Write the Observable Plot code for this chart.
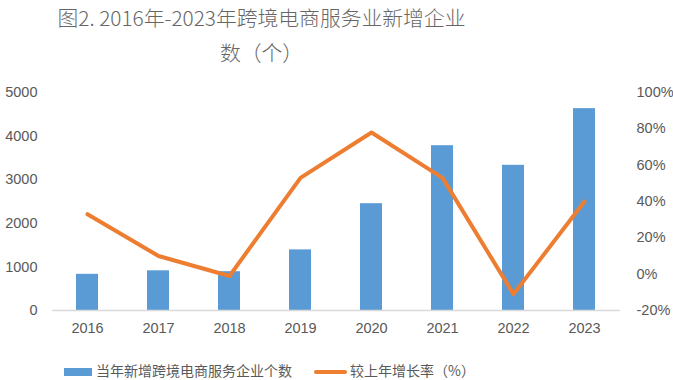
<!DOCTYPE html>
<html><head><meta charset="utf-8">
<script src="https://cdn.jsdelivr.net/npm/d3@7"></script>
<script src="https://cdn.jsdelivr.net/npm/@observablehq/plot@0.6"></script>
<style>
body{margin:0;background:#fff;width:673px;height:380px;overflow:hidden;font-family:"Noto Sans CJK SC","Noto Sans",sans-serif;position:relative;}
#title{position:absolute;left:0;top:0;width:523px;height:80px;color:#666;font-size:20.8px;font-weight:300;text-align:center;}
#title div{height:35px;line-height:35px;white-space:nowrap;}
#chart{position:absolute;left:0;top:80px;}
#legend{position:absolute;left:0;top:361px;width:673px;height:19px;}
.lg{position:absolute;top:0;font-size:14px;color:#595959;line-height:19px;height:19px;white-space:nowrap;}
.sw{position:absolute;}
</style></head><body>
<div id="title"><div>图2. 2016年-2023年跨境电商服务业新增企业</div><div>数（个）</div></div>
<div id="chart"></div>
<div id="legend">
<div class="sw" style="left:64px;top:7px;width:28px;height:8px;background:#5B9BD5"></div>
<div class="lg" style="left:96px">当年新增跨境电商服务企业个数</div>
<div class="sw" style="left:314px;top:9px;width:33px;height:4px;background:#ED7D31;border-radius:2px"></div>
<div class="lg" style="left:350px">较上年增长率（%）</div>
</div>
<script>
const years = ["2016","2017","2018","2019","2020","2021","2022","2023"];
const counts = [830, 910, 890, 1390, 2450, 3780, 3330, 4630];
const growth = [33, 10, -1, 53, 78, 53, -11, 40];
const leftTicks = [0,1000,2000,3000,4000,5000];
const rightTicks = [-20,0,20,40,60,80,100];
const toLeft = p => (p + 20) / 120 * 5000;
const data = years.map((y,i)=>({year:y,count:counts[i],growth:growth[i]}));
const plot = Plot.plot({
  width:673, height:262, marginTop:12, marginBottom:32, marginLeft:52, marginRight:53,
  style:{fontFamily:"'Liberation Sans', sans-serif", fontSize:"14.5px", color:"#595959", background:"#fff"},
  x:{type:"band", domain:years, paddingInner:0.69, paddingOuter:0.345, label:null},
  y:{domain:[0,5000], label:null},
  marks:[
    Plot.axisY(leftTicks, {anchor:"left", tickSize:0, tickPadding:15, label:null, fill:"#595959", tickFormat: v => String(v)}),
    Plot.axisY(rightTicks.map(toLeft), {anchor:"right", tickSize:0, tickPadding:16, label:null, fill:"#595959",
      tickFormat: v => Math.round(v/5000*120-20)+"%"}),
    Plot.axisX({tickSize:0, tickPadding:12, label:null, fill:"#595959"}),
    Plot.barY(data,{x:"year", y:"count", fill:"#5B9BD5"}),
    Plot.ruleY([0],{stroke:"#D9D9D9", strokeWidth:1.5}),
    Plot.line(data,{x:"year", y:d=>toLeft(d.growth), stroke:"#ED7D31", strokeWidth:4, strokeLinejoin:"round", strokeLinecap:"round"})
  ]
});
document.getElementById("chart").append(plot);
</script>
</body></html>
